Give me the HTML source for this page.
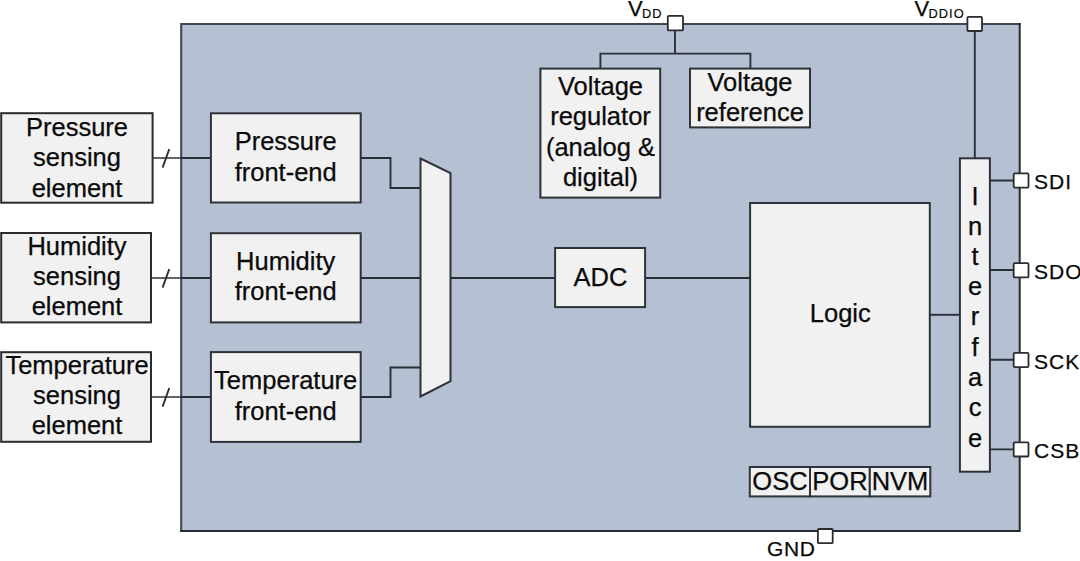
<!DOCTYPE html>
<html><head><meta charset="utf-8"><title>Block diagram</title>
<style>
html,body{margin:0;padding:0;background:#fff;width:1080px;height:561px;overflow:hidden}
svg{display:block}
text{font-family:"Liberation Sans",sans-serif;fill:#0a0a0a;stroke:#0a0a0a;stroke-width:0.25px}
.b{fill:#f1f1f1;stroke:#2e3239;stroke-width:2}
.s{stroke:#2b2b2b}
.l{fill:none;stroke:#2a2e36;stroke-width:1.9}
.p{fill:#fff;stroke:#2a2c30;stroke-width:1.8}
.t25{font-size:25.5px;text-anchor:middle}
.t20{font-size:21px;letter-spacing:1px}
</style></head>
<body>
<svg width="1080" height="561" viewBox="0 0 1080 561">
<!-- main chip -->
<rect x="181.2" y="24" width="838.5" height="507" fill="#b5c0d3"/>
<path fill="none" stroke="#42474f" stroke-width="2.1" d="M181.2 532V24H1020.8"/>
<path fill="none" stroke="#272a30" stroke-width="2" d="M180.2 531H1019.7V23"/>

<!-- sensing elements -->
<rect class="b s" x="1.2" y="113.2" width="151.4" height="89.5"/>
<rect class="b s" x="1.2" y="233" width="149.8" height="89.4"/>
<rect class="b s" x="1.2" y="352.2" width="149.8" height="89.6"/>
<g class="t25">
<text x="77" y="135.6">Pressure</text><text x="77" y="165.7">sensing</text><text x="77" y="196.8">element</text>
<text x="77" y="255">Humidity</text><text x="77" y="285">sensing</text><text x="77" y="315.1">element</text>
<text x="77" y="373.7">Temperature</text><text x="77" y="403.9">sensing</text><text x="77" y="434">element</text>
</g>

<!-- sensing -> front-end lines -->
<path class="l" style="stroke:#333;stroke-width:1.5" d="M152.5 158H181M151 278H181M151 397H181"/>
<path class="l" d="M181 158H210.9M181 278H210.9M181 397H210.9"/>
<path class="l" d="M169.3 149L162.6 167.6M169.3 269L162.6 287.6M169.3 388L162.6 406.6" stroke-width="1.8"/>

<!-- front-ends -->
<rect class="b" x="210.9" y="113.3" width="149.8" height="89.2"/>
<rect class="b" x="210.9" y="233.2" width="149.8" height="89.2"/>
<rect class="b" x="210.9" y="352.1" width="149.8" height="89.8"/>
<g class="t25">
<text x="285.7" y="150.3">Pressure</text><text x="285.7" y="180.5">front-end</text>
<text x="285.7" y="270.4">Humidity</text><text x="285.7" y="300.2">front-end</text>
<text x="285.7" y="389.4">Temperature</text><text x="285.7" y="419.6">front-end</text>
</g>

<!-- FE -> mux -->
<path class="l" d="M360.6 158H390.5V188H420.5M360.6 278H420.5M360.6 397H390.5V367.5H420.5"/>
<!-- mux -->
<path class="b" d="M420.5 158.5L450.5 173.2V381.2L420.5 396.5Z"/>
<path class="l" d="M450.5 278H555.2M645.1 278H750"/>

<!-- ADC -->
<rect class="b" x="555.1" y="248" width="90" height="59.1"/>
<text class="t25" x="600.4" y="285.5">ADC</text>

<!-- Logic -->
<rect class="b" x="750.1" y="203" width="179.7" height="223.8"/>
<text class="t25" x="840.3" y="322">Logic</text>
<path class="l" d="M929.8 314.8H960"/>

<!-- OSC POR NVM -->
<rect class="b" x="749.8" y="467" width="60.2" height="29.4"/>
<rect class="b" x="810" y="467" width="59.8" height="29.4"/>
<rect class="b" x="869.8" y="467" width="60.5" height="29.4"/>
<g class="t25">
<text x="780" y="490.3">OSC</text><text x="840" y="490.3">POR</text><text x="900" y="490.3">NVM</text>
</g>

<!-- Interface -->
<path class="l" d="M974.8 31V158.3"/>
<rect class="b" x="959.9" y="158.3" width="30" height="313.4"/>
<g class="t25">
<text x="975" y="204.5">I</text>
<text x="975" y="234.8">n</text>
<text x="975" y="264.6">t</text>
<text x="975" y="294.8">e</text>
<text x="975" y="325.4">r</text>
<text x="975" y="355.9">f</text>
<text x="975" y="386">a</text>
<text x="975" y="416.2">c</text>
<text x="975" y="447">e</text>
</g>
<path class="l" d="M989.9 180.5H1014M989.9 270H1014M989.9 359.8H1014M989.9 449.4H1014"/>

<!-- Voltage regulator / reference -->
<path class="l" d="M675 31V53.6H600.4V68.6M675 53.6H750.4V68.6"/>
<rect class="b" x="540.4" y="68.6" width="119.8" height="129"/>
<rect class="b" x="690" y="68.6" width="120" height="58.8"/>
<g class="t25">
<text x="600.5" y="95.1">Voltage</text><text x="600.5" y="125.3">regulator</text><text x="600.5" y="155.5">(analog &amp;</text><text x="600.5" y="185.7">digital)</text>
<text x="750" y="90.5">Voltage</text><text x="750" y="121.2">reference</text>
</g>

<!-- pads -->
<rect class="p" x="667.8" y="15.8" width="15.2" height="14.6" rx="1"/>
<rect class="p" x="967.4" y="16.8" width="14.6" height="14.2" rx="1"/>
<rect class="p" x="1013.7" y="173.4" width="14.8" height="14.2" rx="1"/>
<rect class="p" x="1013.7" y="263.2" width="14.8" height="14.2" rx="1"/>
<rect class="p" x="1013.7" y="352.9" width="14.8" height="14.2" rx="1"/>
<rect class="p" x="1013.7" y="442.3" width="14.8" height="14.2" rx="1"/>
<rect class="p" x="817.9" y="529" width="14.8" height="14.2" rx="1"/>

<!-- pad labels -->
<g class="t20">
<text x="1034" y="189">SDI</text>
<text x="1034" y="278.6">SDO</text>
<text x="1034" y="368.5">SCK</text>
<text x="1034" y="458">CSB</text>
<text x="767" y="556" letter-spacing="0.6">GND</text>
</g>
<g style="font-size:22px">
<text x="628" y="15.8">V<tspan font-size="12.8" letter-spacing="1" dy="2.3" style="stroke-width:0.2px" x="642">DD</tspan></text>
<text x="914.6" y="15.7">V<tspan font-size="12.8" letter-spacing="1" dy="2.3" style="stroke-width:0.2px" x="928.6">DDIO</tspan></text>
</g>
</svg>
</body></html>
